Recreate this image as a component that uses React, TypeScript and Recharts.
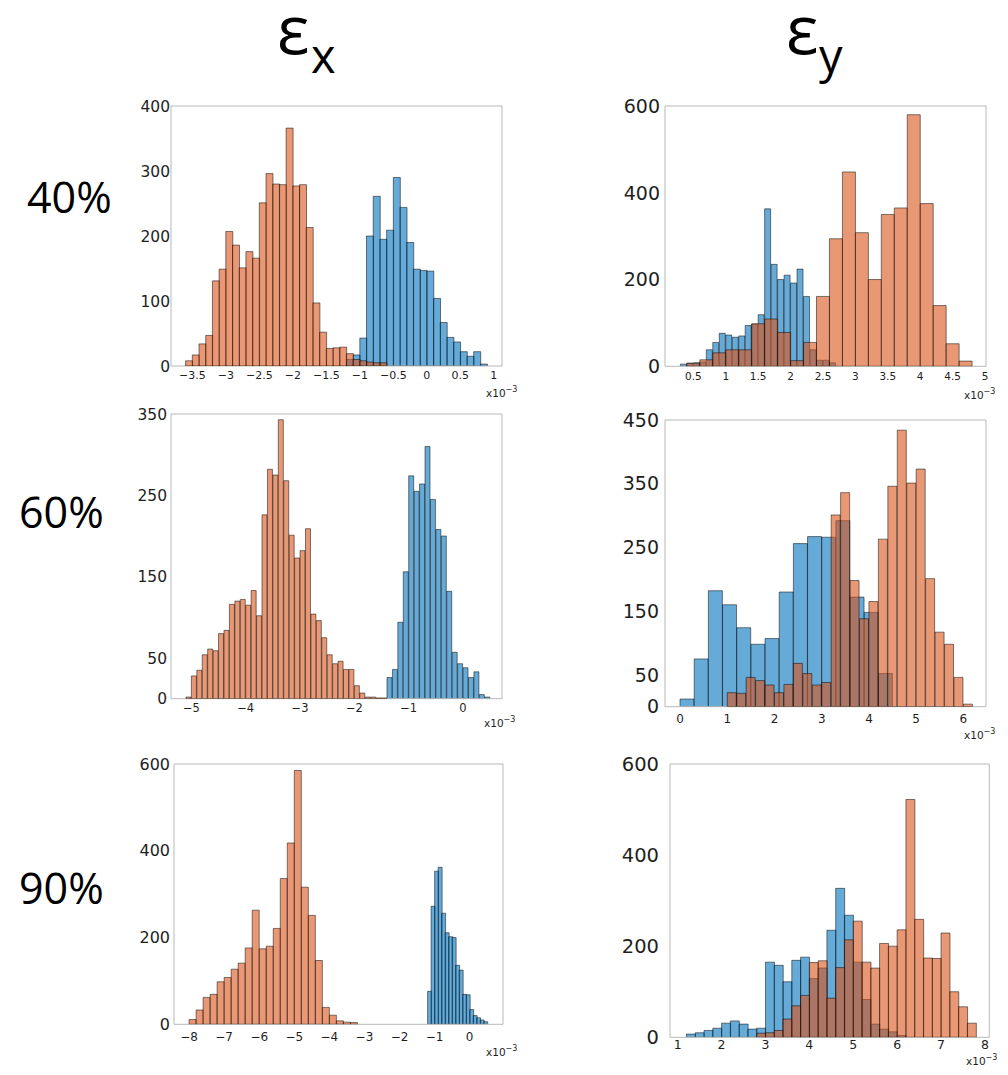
import React from 'react';
import { BarChart, Bar, XAxis, YAxis } from 'recharts';

// ---------------- DATA (histogram counts, strain in units of 1e-3) ----------------
// Row 40%, eps_x
const p1BlueStart = -1.2;
const p1BlueWidth = 0.1;
const p1BlueCounts = [10, 17, 43, 200, 261, 195, 209, 290, 244, 190, 149, 147, 146, 104, 67, 44, 37, 22, 15, 22, 3];
const p1OrangeStart = -3.6;
const p1OrangeWidth = 0.1;
const p1OrangeCounts = [8, 17, 34, 47, 131, 149, 207, 186, 151, 176, 166, 251, 296, 280, 279, 366, 277, 279, 213, 97, 52, 27, 28, 29, 19, 10, 8, 6, 5, 5];
const p1XTicks = [-3.5, -3, -2.5, -2, -1.5, -1, -0.5, 0, 0.5, 1];
const p1YTicks = [0, 100, 200, 300, 400];
const p1YMinor = [0, 50, 100, 150, 200, 250, 300, 350, 400];

// Row 40%, eps_y
const p2BlueStart = 0.3;
const p2BlueWidth = 0.1;
const p2BlueCounts = [5, 7, 8, 10, 38, 55, 76, 72, 67, 70, 94, 97, 119, 363, 235, 200, 210, 192, 224, 161, 38, 14, 14, 8];
const p2OrangeStart = 0.4;
const p2OrangeWidth = 0.2;
const p2OrangeCounts = [7, 15, 31, 38, 38, 98, 109, 78, 13, 55, 161, 294, 448, 308, 200, 350, 365, 580, 375, 140, 52, 12];
const p2XTicks = [0.5, 1, 1.5, 2, 2.5, 3, 3.5, 4, 4.5, 5];
const p2YTicks = [0, 200, 400, 600];
const p2YMinor = [0, 100, 200, 300, 400, 500, 600];

// Row 60%, eps_x
const p3BlueStart = -1.4;
const p3BlueWidth = 0.1;
const p3BlueCounts = [26, 36, 94, 156, 274, 255, 264, 310, 245, 208, 200, 132, 57, 43, 38, 26, 33, 5, 2];
const p3OrangeStart = -5.1;
const p3OrangeWidth = 0.1;
const p3OrangeCounts = [2, 28, 35, 54, 61, 59, 80, 84, 116, 120, 122, 115, 133, 102, 226, 282, 275, 343, 268, 201, 173, 182, 209, 104, 96, 75, 54, 43, 46, 36, 36, 16, 7, 2, 2, 1, 1];
const p3XTicks = [-5, -4, -3, -2, -1, 0];
const p3YTicks = [0, 50, 150, 250, 350];
const p3YMinor = [0, 50, 100, 150, 200, 250, 300, 350];

// Row 60%, eps_y
const p4BlueStart = 0;
const p4BlueWidth = 0.3;
const p4BlueCounts = [12, 75, 182, 160, 124, 98, 107, 180, 256, 267, 266, 292, 172, 148, 52];
const p4OrangeStart = 1.0;
const p4OrangeWidth = 0.2;
const p4OrangeCounts = [22, 21, 46, 41, 34, 22, 35, 68, 52, 34, 38, 301, 336, 198, 138, 165, 263, 346, 434, 351, 373, 201, 117, 98, 46, 4];
const p4XTicks = [0, 1, 2, 3, 4, 5, 6];
const p4YTicks = [0, 50, 150, 250, 350, 450];
const p4YMinor = [0, 50, 100, 150, 200, 250, 300, 350, 400, 450];

// Row 90%, eps_x
const p5BlueStart = -1.2;
const p5BlueWidth = 0.1;
const p5BlueCounts = [76, 272, 353, 362, 256, 211, 202, 200, 136, 125, 69, 68, 34, 20, 15, 10, 6];
const p5OrangeStart = -8.0;
const p5OrangeWidth = 0.2;
const p5OrangeCounts = [11, 33, 62, 69, 98, 108, 127, 141, 176, 263, 174, 180, 221, 336, 418, 585, 316, 251, 147, 39, 21, 8, 5, 4];
const p5XTicks = [-8, -7, -6, -5, -4, -3, -2, -1, 0];
const p5YTicks = [0, 200, 400, 600];
const p5YMinor = [0, 100, 200, 300, 400, 500, 600];

// Row 90%, eps_y
const p6BlueStart = 1.2;
const p6BlueWidth = 0.2;
const p6BlueCounts = [7, 10, 15, 20, 31, 36, 29, 18, 20, 165, 158, 122, 169, 176, 129, 152, 235, 327, 268, 165, 83, 29, 18, 12, 4];
const p6OrangeStart = 2.8;
const p6OrangeWidth = 0.2;
const p6OrangeCounts = [9, 10, 15, 40, 69, 92, 164, 168, 86, 153, 214, 255, 165, 152, 206, 200, 236, 522, 259, 174, 173, 229, 100, 67, 31];
const p6XTicks = [1, 2, 3, 4, 5, 6, 7, 8];
const p6YTicks = [0, 200, 400, 600];
const p6YMinor = [0, 100, 200, 300, 400, 500, 600];

const rowLabels = ['40%', '60%', '90%'];

// ---------------- STYLE / LAYOUT ----------------
const BLUE = '#0072BD';
const ORANGE = '#D95319';
const FRAME = '#b8b8b8';
const TEXT = '#1e1e1e';
const TICK_FONT = '"DejaVu Sans", Verdana, sans-serif';
const LABEL_FONT = '"Open Sans", "Noto Sans", sans-serif';

const ML = 60; // left axis width
const MT = 15; // space above plot (incl. 1px top axis)
const MR = 24; // right margin
const MB = 36; // bottom axis height

type Hist = { start: number; width: number; counts: number[] };
type Panel = {
  id: string;
  left: number; top: number; w: number; h: number;
  xDomain: [number, number]; yMax: number;
  xTicks: number[]; yTicks: number[]; yMinor: number[];
  xFont: number; yFont: number; xGap: number; yGap: number;
  x10: [number, number];
  blue: Hist; orange: Hist;
};

const PANELS: Panel[] = [
  {
    id: 'p1', left: 170.7, top: 106, w: 331, h: 260, xDomain: [-3.818, 1.122], yMax: 400,
    xTicks: p1XTicks, yTicks: p1YTicks, yMinor: p1YMinor, xFont: 11, yFont: 15.5, xGap: 5, yGap: 1, x10: [486, 397],
    blue: { start: p1BlueStart, width: p1BlueWidth, counts: p1BlueCounts },
    orange: { start: p1OrangeStart, width: p1OrangeWidth, counts: p1OrangeCounts },
  },
  {
    id: 'p2', left: 665, top: 105.7, w: 321, h: 260.3, xDomain: [0.063, 5.015], yMax: 600,
    xTicks: p2XTicks, yTicks: p2YTicks, yMinor: p2YMinor, xFont: 10.5, yFont: 19, xGap: 6, yGap: 5, x10: [964, 399],
    blue: { start: p2BlueStart, width: p2BlueWidth, counts: p2BlueCounts },
    orange: { start: p2OrangeStart, width: p2OrangeWidth, counts: p2OrangeCounts },
  },
  {
    id: 'p3', left: 170.7, top: 414, w: 331, h: 284.7, xDomain: [-5.375, 0.717], yMax: 350,
    xTicks: p3XTicks, yTicks: p3YTicks, yMinor: p3YMinor, xFont: 11.5, yFont: 15.5, xGap: 5, yGap: 4, x10: [484, 727],
    blue: { start: p3BlueStart, width: p3BlueWidth, counts: p3BlueCounts },
    orange: { start: p3OrangeStart, width: p3OrangeWidth, counts: p3OrangeCounts },
  },
  {
    id: 'p4', left: 665, top: 420, w: 321, h: 286.7, xDomain: [-0.318, 6.478], yMax: 450,
    xTicks: p4XTicks, yTicks: p4YTicks, yMinor: p4YMinor, xFont: 12, yFont: 19, xGap: 8, yGap: 6, x10: [964, 739],
    blue: { start: p4BlueStart, width: p4BlueWidth, counts: p4BlueCounts },
    orange: { start: p4OrangeStart, width: p4OrangeWidth, counts: p4OrangeCounts },
  },
  {
    id: 'p5', left: 174.3, top: 764, w: 329, h: 260.3, xDomain: [-8.43, 0.95], yMax: 600,
    xTicks: p5XTicks, yTicks: p5YTicks, yMinor: p5YMinor, xFont: 12, yFont: 16, xGap: 8, yGap: 4, x10: [486, 1056],
    blue: { start: p5BlueStart, width: p5BlueWidth, counts: p5BlueCounts },
    orange: { start: p5OrangeStart, width: p5OrangeWidth, counts: p5OrangeCounts },
  },
  {
    id: 'p6', left: 670, top: 764, w: 319.3, h: 273.3, xDomain: [0.825, 8.1], yMax: 600,
    xTicks: p6XTicks, yTicks: p6YTicks, yMinor: p6YMinor, xFont: 12.5, yFont: 19.5, xGap: 3, yGap: 11, x10: [966, 1065],
    blue: { start: p6BlueStart, width: p6BlueWidth, counts: p6BlueCounts },
    orange: { start: p6OrangeStart, width: p6OrangeWidth, counts: p6OrangeCounts },
  },
];

const fmt = (v: number) => String(v).replace('-', '\u2212');

function HistLayer({ p, hist, color, axes }: { p: Panel; hist: Hist; color: string; axes: boolean }) {
  const rows = hist.counts.map((c, i) => ({ x: hist.start + (i + 0.5) * hist.width, c }));
  const chartW = ML + p.w + 1 + MR;
  const chartH = MT + p.h + MB;
  const frameLine = axes ? { stroke: FRAME, strokeWidth: 1 } : false;
  return (
    <div style={{ position: 'absolute', left: p.left - ML, top: p.top - MT, width: chartW, height: chartH }}>
      <BarChart
        width={chartW}
        height={chartH}
        data={rows}
        margin={{ top: MT - 1, right: MR, bottom: 0, left: 0 }}
        barCategoryGap={0}
        barGap={0}
      >
        <XAxis
          xAxisId="b"
          dataKey="x"
          type="number"
          domain={p.xDomain}
          allowDataOverflow
          ticks={p.xTicks}
          interval={0}
          height={MB}
          tickSize={0}
          tickMargin={p.xGap}
          tickLine={false}
          axisLine={frameLine}
          tick={axes ? { fontSize: p.xFont, fill: TEXT, fontFamily: TICK_FONT } : false}
          tickFormatter={fmt}
        />
        <XAxis
          xAxisId="t"
          orientation="top"
          dataKey="x"
          type="number"
          domain={p.xDomain}
          allowDataOverflow
          ticks={p.xTicks}
          interval={0}
          height={1}
          tickSize={-4}
          tick={false}
          tickLine={frameLine}
          axisLine={frameLine}
        />
        <YAxis
          yAxisId="l"
          type="number"
          domain={[0, p.yMax]}
          allowDataOverflow
          ticks={p.yTicks}
          interval={0}
          width={ML}
          tickSize={0}
          tickMargin={p.yGap}
          tickLine={false}
          axisLine={frameLine}
          tick={axes ? { fontSize: p.yFont, fill: TEXT, fontFamily: TICK_FONT } : false}
        />
        <YAxis
          yAxisId="r"
          orientation="right"
          type="number"
          domain={[0, p.yMax]}
          allowDataOverflow
          ticks={p.yMinor}
          interval={0}
          width={1}
          tickSize={-4}
          tick={false}
          tickLine={frameLine}
          axisLine={frameLine}
        />
        <Bar
          xAxisId="b"
          yAxisId="l"
          dataKey="c"
          fill={color}
          fillOpacity={0.6}
          stroke="#000"
          strokeWidth={0.5}
          isAnimationActive={false}
        />
      </BarChart>
    </div>
  );
}

export default function App() {
  return (
    <div style={{ position: 'absolute', left: 0, top: 0, width: 1008, height: 1075, background: '#fff', overflow: 'hidden' }}>
      <svg width={1008} height={1075} style={{ position: 'absolute', left: 0, top: 0 }}>
        <text x={277} y={54} fontFamily={LABEL_FONT} fontSize={68} fill="#000">ε</text>
        <text x={311} y={73} fontFamily={LABEL_FONT} fontSize={47} fill="#000">x</text>
        <text x={786} y={54} fontFamily={LABEL_FONT} fontSize={68} fill="#000">ε</text>
        <text x={819} y={73} fontFamily={LABEL_FONT} fontSize={47} fill="#000">y</text>
        <text x={27} y={213} fontFamily={LABEL_FONT} fontSize={43} fill="#000">{rowLabels[0]}</text>
        <text x={19} y={528} fontFamily={LABEL_FONT} fontSize={43} fill="#000">{rowLabels[1]}</text>
        <text x={19} y={904} fontFamily={LABEL_FONT} fontSize={43} fill="#000">{rowLabels[2]}</text>
        {PANELS.map((p) => (
          <text key={p.id + 'x10'} x={p.x10[0]} y={p.x10[1]} fontFamily={TICK_FONT} fontSize={10.5} fill={TEXT}>
            x10
            <tspan fontSize={8} dy={-5}>{'\u22123'}</tspan>
          </text>
        ))}
      </svg>
      {PANELS.map((p) => (
        <React.Fragment key={p.id}>
          <HistLayer p={p} hist={p.blue} color={BLUE} axes={true} />
          <HistLayer p={p} hist={p.orange} color={ORANGE} axes={false} />
        </React.Fragment>
      ))}
    </div>
  );
}
